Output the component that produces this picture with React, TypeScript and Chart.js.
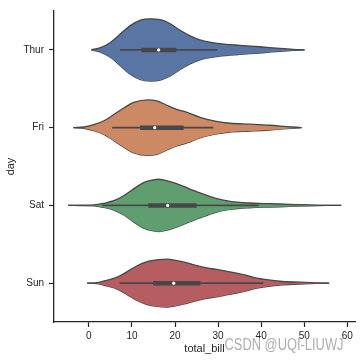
import React, { useEffect, useRef } from "react";
import { Chart, registerables } from "chart.js";

Chart.register(...registerables);

const days = ["Thur", "Fri", "Sat", "Sun"];
const xTicks = [0, 10, 20, 30, 40, 50, 60];

// violin outlines: total_bill positions and relative density (1 = widest)
const thurX = [0.55, 2.7, 5.0, 7.3, 9.6, 12.0, 14.3, 16.6, 18.9, 21.2, 23.5, 25.8, 28.1, 30.4, 35.1, 39.7, 44.3, 47.4, 50.1];
const thurDensity = [0, 0.07, 0.24, 0.51, 0.78, 0.96, 1.0, 0.97, 0.84, 0.63, 0.45, 0.32, 0.25, 0.2, 0.145, 0.1, 0.048, 0.018, 0];

const friX = [-3.6, -1.15, 1.15, 3.5, 5.8, 8.1, 10.4, 13.7, 15.8, 18.1, 20.4, 22.8, 25.8, 29.3, 32.8, 37.4, 42.0, 45.9, 49.4];
const friDensity = [0, 0.02, 0.1, 0.22, 0.42, 0.63, 0.81, 0.89, 0.86, 0.72, 0.59, 0.49, 0.33, 0.21, 0.14, 0.11, 0.076, 0.035, 0];

const satX = [-4.85, -1.9, 1.15, 3.5, 5.8, 8.1, 10.4, 12.7, 15.0, 16.2, 17.3, 19.7, 22.0, 24.3, 25.8, 29.3, 32.8, 37.4, 42.0, 46.6, 51.3, 55.1, 58.6];
const satDensity = [0, 0.005, 0.013, 0.067, 0.15, 0.31, 0.53, 0.73, 0.82, 0.84, 0.82, 0.73, 0.61, 0.48, 0.4, 0.23, 0.13, 0.076, 0.054, 0.035, 0.013, 0.003, 0];

const sunX = [-0.4, 1.9, 4.3, 6.6, 8.9, 11.2, 13.5, 15.8, 18.1, 20.4, 22.8, 25.1, 27.4, 29.7, 32.0, 34.3, 36.6, 39.0, 41.3, 44.3, 49.0, 52.8, 55.8];
const sunDensity = [0, 0.013, 0.1, 0.19, 0.37, 0.56, 0.69, 0.75, 0.77, 0.72, 0.65, 0.56, 0.49, 0.44, 0.38, 0.32, 0.25, 0.16, 0.11, 0.06, 0.03, 0.01, 0];

// inner box statistics
const whiskerLow = [7.2, 5.4, 3.07, 7.1];
const whiskerHigh = [29.8, 28.9, 39.4, 40.5];
const q1 = [12.2, 11.9, 13.8, 14.95];
const q3 = [20.3, 22.0, 25.0, 25.9];
const medians = [16.2, 15.3, 18.3, 19.7];

const fillColors = ["#5975a4", "#cc8963", "#5f9e6e", "#b55d60"];
const edgeColor = "#474747";
const textColor = "#262626";

const violinX = [thurX, friX, satX, sunX];
const violinDensity = [thurDensity, friDensity, satDensity, sunDensity];
const HALF_WIDTH = 0.4;

const watermarkText = "CSDN @UQI-LIUWJ";

const watermark = {
  id: "watermark",
  afterDraw(chart: any) {
    const ctx = chart.ctx;
    ctx.save();
    ctx.font = '16px "Liberation Sans", Arial, sans-serif';
    ctx.textBaseline = "alphabetic";
    const w = ctx.measureText(watermarkText).width;
    const sx = 119 / w;
    ctx.translate(224.5, 349.5);
    ctx.scale(sx, 1);
    ctx.fillStyle = "rgba(165,165,165,0.9)";
    ctx.fillText(watermarkText, 0, 0);
    ctx.restore();
  },
};

export default function App() {
  const ref = useRef<HTMLCanvasElement | null>(null);

  useEffect(() => {
    if (!ref.current) return;
    const datasets: any[] = [];
    days.forEach((_, i) => {
      const xs = violinX[i];
      const ds = violinDensity[i];
      datasets.push({
        data: xs.map((x, k) => ({ x, y: i - ds[k] * HALF_WIDTH })),
        borderColor: edgeColor,
        borderWidth: 1.3,
        backgroundColor: fillColors[i],
        fill: "+1",
        pointRadius: 0,
        cubicInterpolationMode: "monotone",
        order: 3,
      });
      datasets.push({
        data: xs.map((x, k) => ({ x, y: i + ds[k] * HALF_WIDTH })),
        borderColor: edgeColor,
        borderWidth: 1.3,
        backgroundColor: fillColors[i],
        fill: false,
        pointRadius: 0,
        cubicInterpolationMode: "monotone",
        order: 3,
      });
    });
    days.forEach((_, i) => {
      datasets.push({
        data: [
          { x: whiskerLow[i], y: i },
          { x: whiskerHigh[i], y: i },
        ],
        borderColor: edgeColor,
        borderWidth: 1.6,
        pointRadius: 0,
        fill: false,
        order: 2,
      });
      datasets.push({
        data: [
          { x: q1[i], y: i },
          { x: q3[i], y: i },
        ],
        borderColor: edgeColor,
        borderWidth: 4.5,
        borderCapStyle: "butt",
        pointRadius: 0,
        fill: false,
        order: 1,
      });
      datasets.push({
        data: [{ x: medians[i], y: i }],
        showLine: false,
        pointRadius: 1.6,
        pointBorderWidth: 0,
        pointBackgroundColor: "#ffffff",
        fill: false,
        order: 0,
      });
    });

    const chart = new Chart(ref.current, {
      type: "line",
      data: { datasets },
      plugins: [watermark],
      options: {
        animation: false,
        responsive: false,
        devicePixelRatio: 1,
        layout: { padding: { top: 7, right: 7, left: 0, bottom: 0 } },
        plugins: { legend: { display: false }, tooltip: { enabled: false } },
        events: [],
        scales: {
          x: {
            type: "linear",
            min: -8.1,
            max: 61.8,
            afterBuildTicks: (s: any) => {
              s.ticks = xTicks.map((v) => ({ value: v }));
            },
            afterFit: (s: any) => {
              s.height = 40;
            },
            ticks: {
              font: { family: '"Liberation Sans", Arial, sans-serif', size: 10 },
              color: textColor,
              padding: 3,
              maxRotation: 0,
            },
            grid: {
              drawOnChartArea: false,
              drawTicks: true,
              tickLength: 5,
              color: textColor,
              tickWidth: 1.2,
            },
            border: { display: true, color: textColor, width: 1.3 },
            title: {
              display: true,
              text: "total_bill",
              color: textColor,
              font: { family: '"Liberation Sans", Arial, sans-serif', size: 11 },
              padding: { top: 0, bottom: 6 },
            },
          },
          y: {
            type: "linear",
            reverse: true,
            min: -0.5,
            max: 3.5,
            afterBuildTicks: (s: any) => {
              s.ticks = days.map((_, i) => ({ value: i }));
            },
            afterFit: (s: any) => {
              s.width = 54;
            },
            ticks: {
              callback: (v: any) => days[Math.round(Number(v))] ?? "",
              font: { family: '"Liberation Sans", Arial, sans-serif', size: 10 },
              color: textColor,
              padding: 5,
            },
            grid: {
              drawOnChartArea: false,
              drawTicks: true,
              tickLength: 5,
              color: textColor,
              tickWidth: 1.2,
            },
            border: { display: true, color: textColor, width: 1.3 },
            title: {
              display: true,
              text: "day",
              color: textColor,
              font: { family: '"Liberation Sans", Arial, sans-serif', size: 11 },
              padding: { top: 4, bottom: 0 },
            },
          },
        },
      } as any,
    });
    return () => chart.destroy();
  }, []);

  return (
    <div style={{ position: "absolute", left: 0, top: 0, width: 362, height: 362, background: "#fff" }}>
      <canvas ref={ref} width={362} height={362} />
    </div>
  );
}
